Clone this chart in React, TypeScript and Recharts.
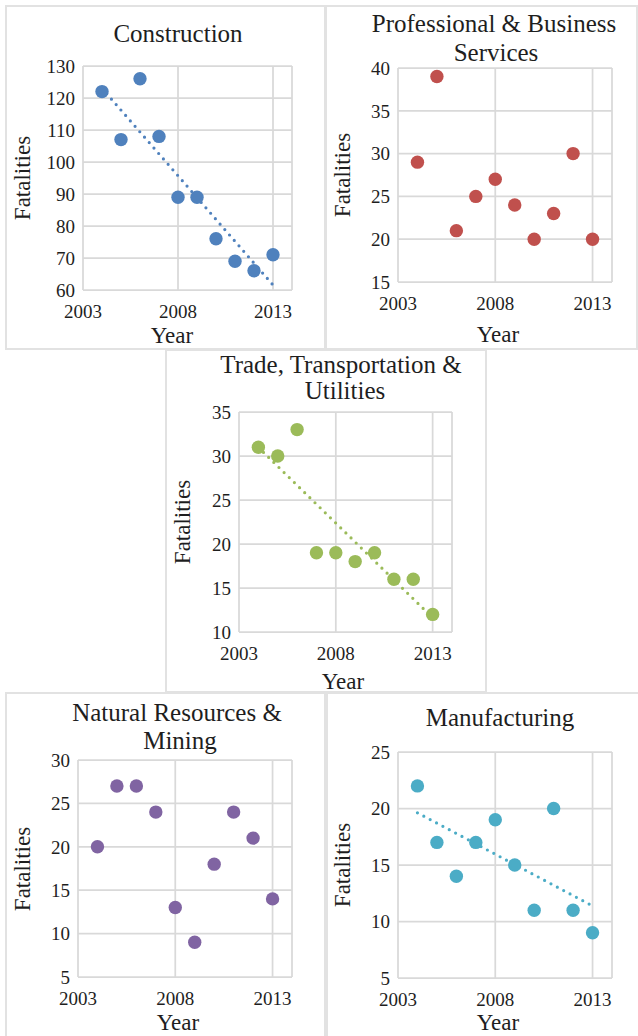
import React from "react";
import { ScatterChart, Scatter, XAxis, YAxis, CartesianGrid, ReferenceLine } from "recharts";

const years = [2004, 2005, 2006, 2007, 2008, 2009, 2010, 2011, 2012, 2013];
const construction = [122, 107, 126, 108, 89, 89, 76, 69, 66, 71];
const professional = [29, 39, 21, 25, 27, 24, 20, 23, 30, 20];
const trade = [31, 30, 33, 19, 19, 18, 19, 16, 16, 12];
const naturalResources = [20, 27, 27, 24, 13, 9, 18, 24, 21, 14];
const manufacturing = [22, 17, 14, 17, 19, 15, 11, 20, 11, 9];

const yearTicks = [2003, 2008, 2013];
const constructionTicks = [60, 70, 80, 90, 100, 110, 120, 130];
const professionalTicks = [15, 20, 25, 30, 35, 40];
const tradeTicks = [10, 15, 20, 25, 30, 35];
const naturalTicks = [5, 10, 15, 20, 25, 30];
const manufacturingTicks = [5, 10, 15, 20, 25];

const FONT = '"Liberation Serif", "Times New Roman", serif';
const TEXT = "#1e1e1e";
const GRID = "#d9d9d9";

// least squares line, like the Excel linear trendline
function fitLine(xs: number[], ys: number[]) {
  const n = xs.length;
  const mx = xs.reduce((a, b) => a + b, 0) / n;
  const my = ys.reduce((a, b) => a + b, 0) / n;
  let sxy = 0;
  let sxx = 0;
  xs.forEach((x, i) => {
    sxy += (x - mx) * (ys[i] - my);
    sxx += (x - mx) * (x - mx);
  });
  const slope = sxy / sxx;
  const x0 = xs[0];
  const x1 = xs[n - 1];
  return [
    { x: x0, y: my + slope * (x0 - mx) },
    { x: x1, y: my + slope * (x1 - mx) },
  ];
}

type Box = { x: number; y: number; w: number; h: number };
type Plot = { l: number; t: number; r: number; b: number };
type TitleLine = { text: string; x: number; y: number };

type PanelProps = {
  box: Box;
  plot: Plot;
  titles: TitleLine[];
  yLabelX: number;
  yearPos: { x: number; y: number };
  values: number[];
  yTicks: number[];
  color: string;
  trend?: boolean;
};

const Txt = ({ x, y, size, children, rotate }: { x: number; y: number; size: number; children: React.ReactNode; rotate?: boolean }) => (
  <div
    style={{
      position: "absolute",
      left: x,
      top: y,
      transform: `translate(-50%, -50%)${rotate ? " rotate(-90deg)" : ""}`,
      fontFamily: FONT,
      fontSize: size,
      lineHeight: 1,
      whiteSpace: "nowrap",
      color: TEXT,
    }}
  >
    {children}
  </div>
);

function Panel({ box, plot, titles, yLabelX, yearPos, values, yTicks, color, trend }: PanelProps) {
  const data = years.map((year, i) => ({ year, value: values[i] }));
  const seg = trend ? fitLine(years, values) : null;
  const tickStyle = { fontFamily: FONT, fontSize: 19, fill: TEXT };

  return (
    <>
      <div
        style={{
          position: "absolute",
          left: box.x,
          top: box.y,
          width: box.w,
          height: box.h,
          boxSizing: "border-box",
          border: "2px solid #e2e2e2",
        }}
      />
      <div style={{ position: "absolute", left: box.x, top: box.y }}>
        <ScatterChart
          width={box.w}
          height={box.h}
          margin={{ top: plot.t - box.y, right: box.x + box.w - plot.r, left: 0, bottom: 0 }}
        >
          <CartesianGrid stroke={GRID} strokeWidth={1.75} />
          <XAxis
            type="number"
            dataKey="year"
            domain={[2003, 2014]}
            ticks={yearTicks}
            interval={0}
            axisLine={false}
            tickLine={false}
            tickMargin={9}
            height={box.y + box.h - plot.b}
            tick={tickStyle}
          />
          <YAxis
            type="number"
            dataKey="value"
            domain={[yTicks[0], yTicks[yTicks.length - 1]]}
            ticks={yTicks}
            interval={0}
            axisLine={false}
            tickLine={false}
            width={plot.l - box.x}
            tick={tickStyle}
          />
          <Scatter
            data={data}
            isAnimationActive={false}
            shape={(p: any) => <circle cx={p.cx} cy={p.cy} r={6.7} fill={color} />}
          />
          {seg && (
            <ReferenceLine
              segment={seg}
              stroke={color}
              strokeWidth={3.2}
              strokeDasharray="0 7.2"
              strokeLinecap="round"
              ifOverflow="visible"
            />
          )}
        </ScatterChart>
      </div>
      {titles.map((t) => (
        <Txt key={t.text} x={t.x} y={t.y} size={25}>
          {t.text}
        </Txt>
      ))}
      <Txt x={yLabelX} y={(plot.t + plot.b) / 2} size={23} rotate>
        Fatalities
      </Txt>
      <Txt x={yearPos.x} y={yearPos.y} size={23}>
        Year
      </Txt>
    </>
  );
}

export default function App() {
  return (
    <div
      style={{
        position: "absolute",
        left: 0,
        top: 0,
        width: 638,
        height: 1036,
        overflow: "hidden",
        background: "#fff",
      }}
    >
      <Panel
        box={{ x: 5, y: 5, w: 321, h: 345 }}
        plot={{ l: 83, t: 66, r: 292, b: 290 }}
        titles={[{ text: "Construction", x: 178, y: 33 }]}
        yLabelX={22}
        yearPos={{ x: 172, y: 335 }}
        values={construction}
        yTicks={constructionTicks}
        color="#4f81bd"
        trend
      />
      <Panel
        box={{ x: 325, y: 5, w: 313, h: 345 }}
        plot={{ l: 398, t: 68, r: 612, b: 282 }}
        titles={[
          { text: "Professional & Business", x: 494, y: 23 },
          { text: "Services", x: 496, y: 52 },
        ]}
        yLabelX={342}
        yearPos={{ x: 498, y: 334 }}
        values={professional}
        yTicks={professionalTicks}
        color="#c0504d"
      />
      <Panel
        box={{ x: 165, y: 349, w: 322, h: 344 }}
        plot={{ l: 239, t: 412, r: 452, b: 632 }}
        titles={[
          { text: "Trade, Transportation &", x: 341, y: 364 },
          { text: "Utilities", x: 345, y: 390 },
        ]}
        yLabelX={182}
        yearPos={{ x: 343, y: 681 }}
        values={trade}
        yTicks={tradeTicks}
        color="#9bbb59"
        trend
      />
      <Panel
        box={{ x: 5, y: 692, w: 321, h: 360 }}
        plot={{ l: 78, t: 760, r: 292, b: 977 }}
        titles={[
          { text: "Natural Resources &", x: 177, y: 712 },
          { text: "Mining", x: 180, y: 740 },
        ]}
        yLabelX={22}
        yearPos={{ x: 178, y: 1022 }}
        values={naturalResources}
        yTicks={naturalTicks}
        color="#8064a2"
      />
      <Panel
        box={{ x: 326, y: 692, w: 320, h: 360 }}
        plot={{ l: 398, t: 752, r: 612, b: 978 }}
        titles={[{ text: "Manufacturing", x: 500, y: 717 }]}
        yLabelX={342}
        yearPos={{ x: 498, y: 1022 }}
        values={manufacturing}
        yTicks={manufacturingTicks}
        color="#4bacc6"
        trend
      />
    </div>
  );
}
